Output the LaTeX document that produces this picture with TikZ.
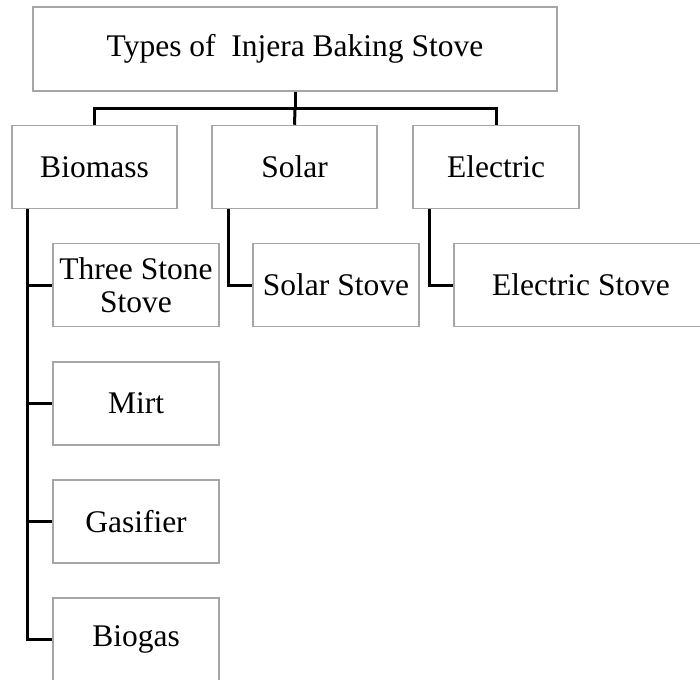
\documentclass[tikz,border=0pt]{standalone}
\usepackage{fontspec}
\setmainfont{Liberation Serif}
\definecolor{boxgray}{HTML}{A6A6A6}
\begin{document}
\begin{tikzpicture}[x=1pt,y=-1pt,
  box/.style={draw=boxgray, line width=1.5pt, inner sep=0pt, align=center,
    minimum width=166pt, minimum height=83pt,
    font=\fontsize{31.5}{33}\selectfont},
  conn/.style={line width=3pt, black, line join=miter}]
\useasboundingbox (0,0) rectangle (700,679);
\clip (0,0) rectangle (700,679);
\node[box, minimum width=524pt, minimum height=84pt] (top) at (295,49) {Types of\ \ Injera Baking Stove};
\node[box, minimum width=165pt] (bio) at (94.5,167) {Biomass};
\node[box, minimum width=165pt] (sol) at (294.5,167) {Solar};
\node[box] (ele) at (496,167) {Electric};
\node[box] (three) at (136,285) {Three Stone\\Stove};
\node[box] (solst) at (336,285) {Solar Stove};
\node[box, minimum width=254pt] (elst) at (581,285) {Electric Stove};
\node[box] (mirt) at (136,403.5) {Mirt};
\node[box] (gas) at (136,521.5) {Gasifier};
\node[box] (biogas) at (136,639.5) {Biogas};
\coordinate (bar) at (295,109);
\draw[conn] (top.south) -- (top.south |- bar);
\draw[conn] (bio.north) |- (ele.north |- bar) -- (ele.north);
\draw[conn] (top.south |- bar) -- (sol.north);
\coordinate (bs) at ([xshift=16pt]bio.south west);
\draw[conn] (bs) |- (biogas.west);
\draw[conn] (bs |- three.west) -- (three.west);
\draw[conn] (bs |- mirt.west) -- (mirt.west);
\draw[conn] (bs |- gas.west) -- (gas.west);
\coordinate (ss) at ([xshift=17pt]sol.south west);
\draw[conn] (ss) |- (solst.west);
\coordinate (es) at ([xshift=17pt]ele.south west);
\draw[conn] (es) |- (elst.west);
\end{tikzpicture}
\end{document}
